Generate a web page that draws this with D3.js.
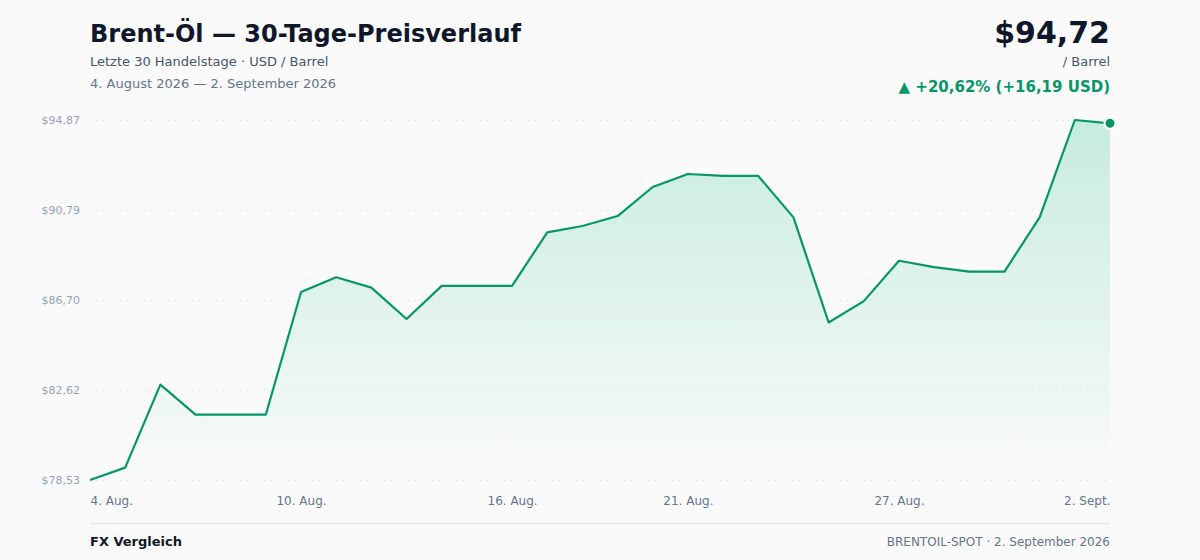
<!DOCTYPE html>
<html>
<head>
<meta charset="utf-8">
<script src="https://cdn.jsdelivr.net/npm/d3@7"></script>
<style>
  body { margin: 0; background: #fafafa; font-family: "DejaVu Sans", sans-serif; }
</style>
</head>
<body>
<svg id="chart" width="1200" height="560"></svg>
<script>
// Brent spot, calendar days 4. Aug. - 2. Sept. 2026
const days = d3.range(30);
const prices = [
  78.53, 79.09, 82.86, 81.50, 81.50, 81.50, 87.06, 87.73, 87.26, 85.84,
  87.34, 87.34, 87.34, 89.77, 90.06, 90.51, 91.83, 92.42, 92.33, 92.33,
  90.45, 85.68, 86.65, 88.48, 88.19, 87.99, 87.99, 90.45, 94.87, 94.72
];
const xTickIdx = [0, 6, 12, 17, 23, 29];
const xTickLabels = ["4. Aug.", "10. Aug.", "16. Aug.", "21. Aug.", "27. Aug.", "2. Sept."];
const yTicks = [78.53, 82.62, 86.70, 90.79, 94.87];

const svg = d3.select("#chart");
const W = 1200, H = 560;
const margin = { top: 120, right: 90, bottom: 80, left: 90 };
const width = W - margin.left - margin.right;
const height = H - margin.top - margin.bottom;
const green = "#059669";

svg.append("rect").attr("width", W).attr("height", H).attr("fill", "#fafafa");

const fmt = v => "$" + v.toFixed(2).replace(".", ",");

const x = d3.scaleLinear().domain([0, days.length - 1]).range([0, width]);
const y = d3.scaleLinear().domain([d3.min(prices), d3.max(prices)]).range([height, 0]);

const defs = svg.append("defs");
const grad = defs.append("linearGradient").attr("id", "fillGrad")
  .attr("x1", 0).attr("y1", 0).attr("x2", 0).attr("y2", 1);
grad.append("stop").attr("offset", "0%").attr("stop-color", "#10b981").attr("stop-opacity", 0.22);
grad.append("stop").attr("offset", "100%").attr("stop-color", "#10b981").attr("stop-opacity", 0.0);

const g = svg.append("g").attr("transform", `translate(${margin.left},${margin.top})`);

// area + line
const area = d3.area().x((d, i) => x(i)).y0(height).y1(d => y(d));
g.append("path").datum(prices).attr("fill", "url(#fillGrad)").attr("d", area);

// grid
const yAxis = d3.axisLeft(y).tickValues(yTicks).tickSize(-width).tickFormat(fmt).tickPadding(10);
const ya = g.append("g").call(yAxis);
ya.select(".domain").remove();
ya.selectAll(".tick line").attr("stroke", "#e2e8f0").attr("stroke-dasharray", "2,4");
ya.selectAll(".tick text").attr("fill", "#94a3b8").attr("font-size", 11)
  .attr("font-family", "DejaVu Sans, sans-serif");

const line = d3.line().x((d, i) => x(i)).y(d => y(d));
g.append("path").datum(prices).attr("fill", "none").attr("stroke", green)
  .attr("stroke-width", 2.2).attr("stroke-linejoin", "round").attr("d", line);

const last = prices.length - 1;
g.append("circle").attr("cx", x(last)).attr("cy", y(prices[last])).attr("r", 5.5)
  .attr("fill", green).attr("stroke", "#fff").attr("stroke-width", 2);

// x axis
const xAxis = d3.axisBottom(x).tickValues(xTickIdx).tickSize(0).tickPadding(16)
  .tickFormat((d, i) => xTickLabels[i]);
const xa = g.append("g").attr("transform", `translate(0,${height})`).call(xAxis);
xa.select(".domain").remove();
xa.selectAll(".tick text").attr("fill", "#64748b").attr("font-size", 12)
  .attr("font-family", "DejaVu Sans, sans-serif")
  .attr("text-anchor", (d, i) => i === 0 ? "start" : (i === xTickIdx.length - 1 ? "end" : "middle"));

// header
svg.append("text").attr("x", 90).attr("y", 42).text("Brent-Öl — 30-Tage-Preisverlauf")
  .attr("font-size", 24).attr("font-weight", "bold").attr("fill", "#0f172a");
svg.append("text").attr("x", 90).attr("y", 66).text("Letzte 30 Handelstage · USD / Barrel")
  .attr("font-size", 13).attr("fill", "#475569");
svg.append("text").attr("x", 90).attr("y", 88).text("4. August 2026 — 2. September 2026")
  .attr("font-size", 13).attr("fill", "#64748b");

const change = prices[last] - prices[0];
const pct = change / prices[0] * 100;
svg.append("text").attr("x", 1110).attr("y", 43).attr("text-anchor", "end")
  .text(fmt(prices[last])).attr("font-size", 30).attr("font-weight", "bold").attr("fill", "#0f172a");
svg.append("text").attr("x", 1110).attr("y", 66).attr("text-anchor", "end")
  .text("/ Barrel").attr("font-size", 13).attr("fill", "#475569");
svg.append("text").attr("x", 1110).attr("y", 92).attr("text-anchor", "end")
  .text(`▲ +${pct.toFixed(2).replace(".", ",")}% (+${change.toFixed(2).replace(".", ",")} USD)`)
  .attr("font-size", 15).attr("font-weight", "bold").attr("fill", green);

// footer
svg.append("line").attr("x1", 90).attr("x2", 1110).attr("y1", 523.5).attr("y2", 523.5)
  .attr("stroke", "#e5e7eb").attr("stroke-width", 1.5);
svg.append("text").attr("x", 90).attr("y", 546).text("FX Vergleich")
  .attr("font-size", 13).attr("font-weight", "bold").attr("fill", "#111827");
svg.append("text").attr("x", 1110).attr("y", 546).attr("text-anchor", "end")
  .text("BRENTOIL-SPOT · 2. September 2026").attr("font-size", 12).attr("fill", "#64748b");
</script>
</body>
</html>
